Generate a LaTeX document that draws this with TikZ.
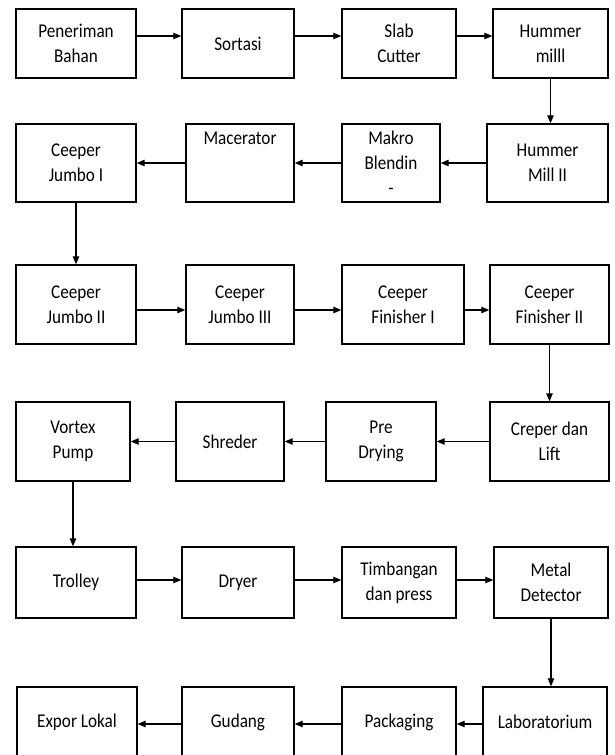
\documentclass[tikz,border=0pt]{standalone}
\usepackage{fontspec}
\setmainfont{Carlito}[FakeStretch=0.88]
\usetikzlibrary{arrows.meta}
\begin{document}
\begin{tikzpicture}[x=1pt, y=-1pt,
    kotak/.style n args={2}{draw, line width=1.4pt, inner sep=0pt, align=center,
        minimum width=#1pt, minimum height=#2pt, font=\fontsize{19.5}{25}\selectfont},
    alur/.style={line width=1.2pt, -{Triangle[length=8pt,width=6.5pt]}}]
    \useasboundingbox (0,0) rectangle (614,755);
    % baris 1
    \node[kotak={120}{69}] (terima) at (76,43.5) {Peneriman\\Bahan};
    \node[kotak={112}{69}] (sortasi) at (238,43.5) {Sortasi};
    \node[kotak={114}{69}] (slab) at (399,43.5) {Slab\\Cutter};
    \node[kotak={115}{69}] (hummer1) at (550.5,43.5) {Hummer\\milll};
    % baris 2
    \node[kotak={120}{78}] (jumbo1) at (76,163) {Ceeper\\Jumbo I};
    \node[kotak={108}{78}] (macerator) at (240,163) {Macerator\\~\\~};
    \node[kotak={98}{78}] (makro) at (391,163) {Makro\\Blendin\\-};
    \node[kotak={121}{78}] (hummer2) at (547.5,163) {Hummer\\Mill II};
    % baris 3
    \node[kotak={120}{79}] (jumbo2) at (76,304.5) {Ceeper\\Jumbo II};
    \node[kotak={108}{79}] (jumbo3) at (240,304.5) {Ceeper\\Jumbo III};
    \node[kotak={122}{79}] (finisher1) at (403,304.5) {Ceeper\\Finisher I};
    \node[kotak={119}{79}] (finisher2) at (549.5,304.5) {Ceeper\\Finisher II};
    % baris 4
    \node[kotak={114}{79}] (vortex) at (73,441.5) {Vortex\\Pump};
    \node[kotak={108}{79}] (shreder) at (230,441.5) {Shreder};
    \node[kotak={110}{79}] (predry) at (381,441.5) {Pre\\Drying};
    \node[kotak={119}{79}] (creper) at (549.5,441.5) {Creper dan\\Lift};
    % baris 5
    \node[kotak={120}{71}] (trolley) at (76,582.5) {Trolley};
    \node[kotak={112}{71}] (dryer) at (238,582.5) {Dryer};
    \node[kotak={114}{71}] (timbang) at (399,582.5) {Timbangan\\dan press};
    \node[kotak={114}{71}] (metal) at (551,582.5) {Metal\\Detector};
    % baris 6
    \node[kotak={120}{70}] (expor) at (77,722) {Expor Lokal};
    \node[kotak={112}{70}] (gudang) at (238,722) {Gudang};
    \node[kotak={114}{70}] (packaging) at (399,722) {Packaging};
    \node[kotak={124}{70}] (lab) at (545,722) {Laboratorium};
    % panah
    \draw[alur] ([yshift=7.5pt]terima.east) -- ([yshift=7.5pt]sortasi.west);
    \draw[alur] ([yshift=7.5pt]sortasi.east) -- ([yshift=7.5pt]slab.west);
    \draw[alur] ([yshift=7.5pt]slab.east) -- ([yshift=7.5pt]hummer1.west);
    \draw[alur] (hummer1.south) -- (hummer1.south |- hummer2.north);
    \draw[alur] (hummer2.west) -- (makro.east);
    \draw[alur] (makro.west) -- (macerator.east);
    \draw[alur] (macerator.west) -- (jumbo1.east);
    \draw[alur] (jumbo1.south) -- (jumbo2.north);
    \draw[alur] ([yshift=-5.5pt]jumbo2.east) -- ([yshift=-5.5pt]jumbo3.west);
    \draw[alur] ([yshift=-5.5pt]jumbo3.east) -- ([yshift=-5.5pt]finisher1.west);
    \draw[alur] ([yshift=-5.5pt]finisher1.east) -- ([yshift=-5.5pt]finisher2.west);
    \draw[alur] (finisher2.south) -- (creper.north);
    \draw[alur] (creper.west) -- (predry.east);
    \draw[alur] (predry.west) -- (shreder.east);
    \draw[alur] (shreder.west) -- (vortex.east);
    \draw[alur] (vortex.south) -- (vortex.south |- trolley.north);
    \draw[alur] ([yshift=2.5pt]trolley.east) -- ([yshift=2.5pt]dryer.west);
    \draw[alur] ([yshift=2.5pt]dryer.east) -- ([yshift=2.5pt]timbang.west);
    \draw[alur] ([yshift=2.5pt]timbang.east) -- ([yshift=2.5pt]metal.west);
    \draw[alur] (metal.south) -- (metal.south |- lab.north);
    \draw[alur] ([yshift=-2pt]lab.west) -- ([yshift=-2pt]packaging.east);
    \draw[alur] ([yshift=-2pt]packaging.west) -- ([yshift=-2pt]gudang.east);
    \draw[alur] ([yshift=-2pt]gudang.west) -- ([yshift=-2pt]expor.east);
\end{tikzpicture}
\end{document}
